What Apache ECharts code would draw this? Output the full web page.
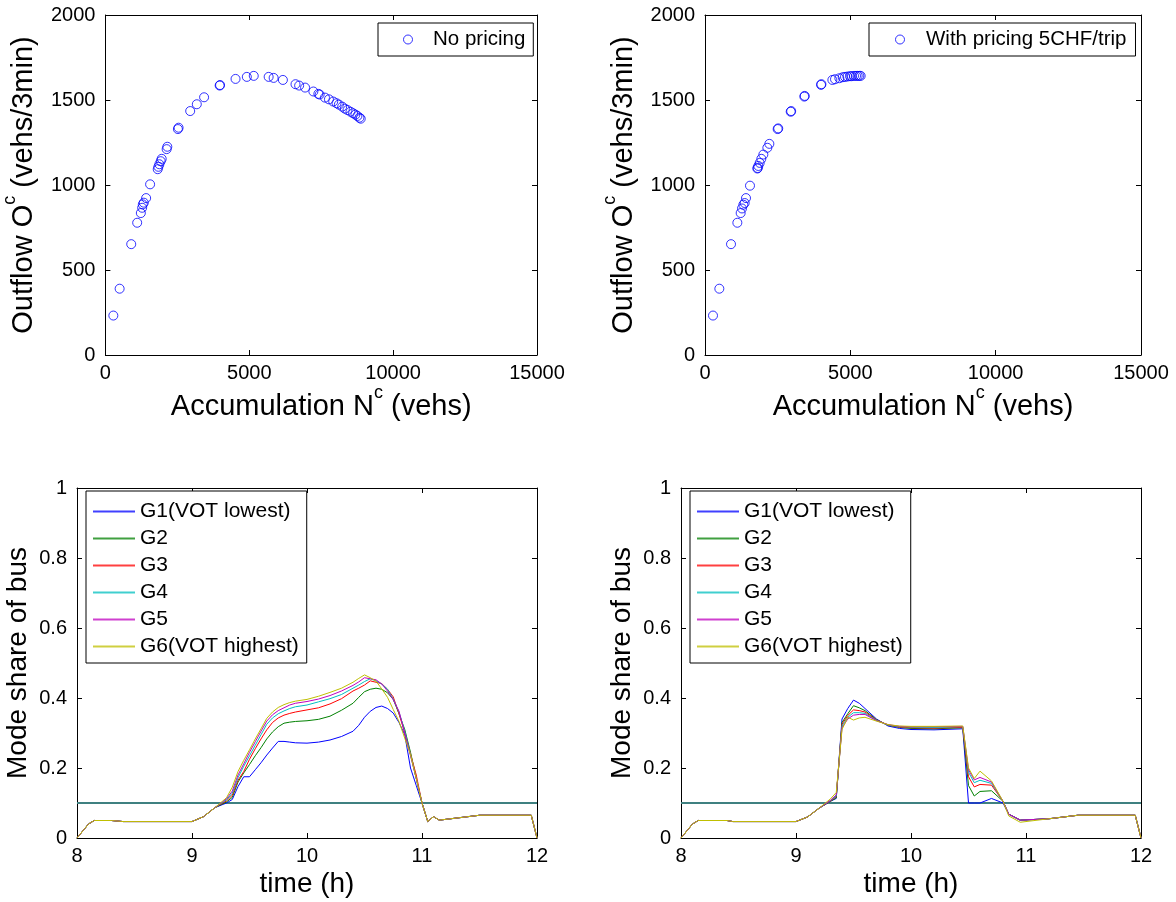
<!DOCTYPE html>
<html><head><meta charset="utf-8">
<script src="https://cdn.jsdelivr.net/npm/echarts@6/dist/echarts.min.js"></script>
<style>html,body{margin:0;padding:0;background:#fff}#c{width:1176px;height:902px}</style>
</head><body><div id="c"></div>
<script>
// ---------- Data: top-left scatter (no pricing) ----------
const accumNo = [276, 495, 898, 1105, 1232, 1278, 1300, 1335, 1416, 1554, 1819, 1842, 1876, 1922, 1957, 2129, 2152, 2520, 2544, 2947, 3177, 3430, 3971, 3985, 4523, 4915, 5156, 5674, 5847, 6169, 6607, 6733, 6940, 7228, 7401, 7447, 7631, 7769, 7918, 8033, 8114, 8230, 8322, 8414, 8518, 8609, 8690, 8759, 8828, 8874];
const outflowNo = [232, 390, 652, 778, 835, 866, 886, 896, 923, 1004, 1093, 1107, 1122, 1140, 1154, 1211, 1225, 1329, 1337, 1435, 1475, 1516, 1585, 1588, 1624, 1636, 1642, 1636, 1630, 1618, 1593, 1585, 1573, 1550, 1536, 1532, 1514, 1504, 1491, 1481, 1473, 1461, 1449, 1441, 1431, 1422, 1414, 1406, 1396, 1390];
// ---------- Data: top-right scatter (with pricing) ----------
const accumPr = [275, 493, 895, 1113, 1227, 1273, 1319, 1365, 1411, 1548, 1801, 1812, 1835, 1881, 1938, 2007, 2145, 2214, 2500, 2520, 2948, 2965, 3418, 3430, 3992, 4005, 4382, 4473, 4622, 4737, 4817, 4898, 4989, 5046, 5127, 5196, 5253, 5310, 5356];
const outflowPr = [232, 390, 652, 778, 835, 862, 884, 894, 923, 996, 1097, 1100, 1112, 1130, 1154, 1179, 1219, 1242, 1329, 1333, 1431, 1435, 1520, 1524, 1589, 1593, 1618, 1622, 1628, 1634, 1636, 1638, 1640, 1640, 1642, 1642, 1642, 1642, 1642];

// ---------- Data: bottom-left mode share (no pricing) ----------
const timeNo = [8.0, 8.1, 8.15, 8.3, 8.4, 9.0, 9.1, 9.2, 9.3, 9.35, 9.4, 9.45, 9.5, 9.55, 9.6, 9.65, 9.7, 9.75, 9.8, 9.85, 9.9, 10.0, 10.1, 10.2, 10.3, 10.4, 10.45, 10.5, 10.55, 10.6, 10.65, 10.7, 10.75, 10.8, 10.85, 10.9, 10.95, 11.0, 11.05, 11.1, 11.15, 11.5, 11.95, 12.0];
const noG1 = [0, 0.04, 0.05, 0.05, 0.047, 0.047, 0.061, 0.087, 0.1, 0.11, 0.147, 0.175, 0.175, 0.195, 0.215, 0.237, 0.257, 0.276, 0.276, 0.274, 0.272, 0.271, 0.274, 0.28, 0.29, 0.305, 0.322, 0.345, 0.362, 0.373, 0.377, 0.37, 0.357, 0.33, 0.295, 0.2, 0.15, 0.1, 0.047, 0.061, 0.051, 0.065, 0.065, 0];
const noG2 = [0, 0.04, 0.05, 0.05, 0.047, 0.047, 0.061, 0.087, 0.103, 0.116, 0.16, 0.186, 0.21, 0.235, 0.258, 0.283, 0.303, 0.318, 0.328, 0.331, 0.333, 0.335, 0.339, 0.348, 0.365, 0.385, 0.402, 0.418, 0.425, 0.428, 0.425, 0.415, 0.396, 0.355, 0.31, 0.245, 0.17, 0.1, 0.047, 0.061, 0.051, 0.065, 0.065, 0];
const noG3 = [0, 0.04, 0.05, 0.05, 0.047, 0.047, 0.061, 0.087, 0.106, 0.122, 0.165, 0.19, 0.225, 0.255, 0.283, 0.309, 0.33, 0.343, 0.351, 0.356, 0.36, 0.366, 0.372, 0.383, 0.398, 0.42, 0.428, 0.437, 0.449, 0.445, 0.441, 0.425, 0.403, 0.355, 0.3, 0.24, 0.18, 0.1, 0.047, 0.061, 0.051, 0.065, 0.065, 0];
const noG4 = [0, 0.04, 0.05, 0.05, 0.047, 0.047, 0.061, 0.087, 0.109, 0.128, 0.172, 0.205, 0.235, 0.265, 0.295, 0.325, 0.343, 0.355, 0.363, 0.37, 0.375, 0.38, 0.389, 0.398, 0.41, 0.428, 0.437, 0.447, 0.455, 0.449, 0.44, 0.425, 0.397, 0.36, 0.305, 0.238, 0.17, 0.1, 0.047, 0.061, 0.051, 0.065, 0.065, 0];
const noG5 = [0, 0.04, 0.05, 0.05, 0.047, 0.047, 0.061, 0.087, 0.112, 0.134, 0.18, 0.212, 0.245, 0.275, 0.305, 0.334, 0.352, 0.364, 0.372, 0.38, 0.385, 0.39, 0.397, 0.407, 0.42, 0.436, 0.446, 0.458, 0.455, 0.452, 0.44, 0.42, 0.395, 0.362, 0.3, 0.235, 0.17, 0.1, 0.047, 0.061, 0.051, 0.065, 0.065, 0];
const noG6 = [0, 0.04, 0.05, 0.05, 0.047, 0.047, 0.061, 0.087, 0.115, 0.145, 0.19, 0.222, 0.252, 0.283, 0.312, 0.342, 0.36, 0.373, 0.381, 0.387, 0.391, 0.396, 0.405, 0.416, 0.428, 0.445, 0.456, 0.466, 0.458, 0.448, 0.426, 0.402, 0.367, 0.333, 0.285, 0.238, 0.17, 0.1, 0.047, 0.061, 0.051, 0.065, 0.065, 0];

// ---------- Data: bottom-right mode share (with pricing) ----------
const timePr = [8.0, 8.1, 8.15, 8.4, 8.45, 9.0, 9.1, 9.2, 9.3, 9.35, 9.4, 9.45, 9.5, 9.55, 9.6, 9.7, 9.8, 9.9, 10.0, 10.2, 10.45, 10.5, 10.55, 10.6, 10.7, 10.8, 10.85, 10.95, 11.2, 11.45, 11.95, 12.0];
const prG1 = [0, 0.04, 0.05, 0.05, 0.047, 0.047, 0.06, 0.085, 0.105, 0.113, 0.34, 0.37, 0.394, 0.385, 0.37, 0.34, 0.32, 0.313, 0.31, 0.309, 0.312, 0.1, 0.1, 0.1, 0.113, 0.1, 0.068, 0.051, 0.055, 0.065, 0.065, 0];
const prG2 = [0, 0.04, 0.05, 0.05, 0.047, 0.047, 0.06, 0.085, 0.105, 0.115, 0.33, 0.355, 0.378, 0.372, 0.364, 0.338, 0.322, 0.316, 0.313, 0.312, 0.315, 0.15, 0.12, 0.133, 0.135, 0.105, 0.068, 0.051, 0.055, 0.065, 0.065, 0];
const prG3 = [0, 0.04, 0.05, 0.05, 0.047, 0.047, 0.06, 0.085, 0.106, 0.118, 0.325, 0.35, 0.366, 0.364, 0.36, 0.337, 0.323, 0.317, 0.315, 0.314, 0.316, 0.175, 0.146, 0.153, 0.151, 0.105, 0.068, 0.051, 0.055, 0.065, 0.065, 0];
const prG4 = [0, 0.04, 0.05, 0.05, 0.047, 0.047, 0.06, 0.085, 0.107, 0.12, 0.32, 0.345, 0.358, 0.358, 0.356, 0.336, 0.323, 0.318, 0.317, 0.316, 0.318, 0.188, 0.158, 0.165, 0.156, 0.105, 0.068, 0.051, 0.055, 0.065, 0.065, 0];
const prG5 = [0, 0.04, 0.05, 0.05, 0.047, 0.047, 0.06, 0.085, 0.108, 0.123, 0.315, 0.34, 0.351, 0.353, 0.353, 0.335, 0.324, 0.319, 0.318, 0.318, 0.319, 0.195, 0.166, 0.173, 0.16, 0.105, 0.068, 0.051, 0.055, 0.065, 0.065, 0];
const prG6 = [0, 0.04, 0.05, 0.05, 0.047, 0.047, 0.06, 0.085, 0.112, 0.13, 0.31, 0.345, 0.337, 0.343, 0.345, 0.334, 0.324, 0.32, 0.319, 0.319, 0.32, 0.2, 0.17, 0.191, 0.163, 0.105, 0.063, 0.045, 0.055, 0.065, 0.065, 0];

// horizontal reference level (drawn in both bottom panels)
const refTime = [8, 12];
const refShare = [0.1, 0.1];

const groupNames = ['G1(VOT lowest)', 'G2', 'G3', 'G4', 'G5', 'G6(VOT highest)'];
const groupColors = ['#0000ff', '#008000', '#ff0000', '#00bfbf', '#bf00bf', '#bfbf00'];
const scatterNames = ['No pricing', 'With pricing 5CHF/trip'];

// ---------- Build chart ----------
const FONT = '"Liberation Sans", Arial, Helvetica, sans-serif';
const chart = echarts.init(document.getElementById('c'), null, {renderer: 'canvas'});

const grids = [
  {left: 102, top: 15, width: 435, height: 340},
  {left: 705, top: 15, width: 436, height: 340},
  {left: 77, top: 488, width: 460, height: 350},
  {left: 681, top: 488, width: 460, height: 350}
];

const supRich = {sup: {fontSize: 18, lineHeight: 18, verticalAlign: 'top', fontFamily: FONT, color: '#000'}};
const plainNum = v => String(+(+v).toFixed(4));

function axisSet(gi, isX, min, max, interval, name, nameGap, nameStyle) {
  const base = {
    type: 'value', gridIndex: gi, min: min, max: max, interval: interval,
    axisLine: {show: true, onZero: false, lineStyle: {color: '#000', width: 1}},
    axisTick: {show: true, inside: true, length: 5, lineStyle: {color: '#000', width: 1}},
    splitLine: {show: false}
  };
  const main = Object.assign({}, base, {
    position: isX ? 'bottom' : 'left',
    axisLabel: {color: '#000', fontSize: 20, fontFamily: FONT, margin: isX ? 8 : 10, formatter: plainNum},
    name: name, nameLocation: 'middle', nameGap: nameGap,
    nameTextStyle: Object.assign({color: '#000', fontFamily: FONT}, nameStyle || {})
  });
  const mirror = Object.assign({}, base, {
    position: isX ? 'top' : 'right',
    axisLabel: {show: false}
  });
  return [main, mirror];
}

const xAxes = [], yAxes = [];
const nStyleTop = {fontSize: 29, lineHeight: 46, rich: supRich};
const nStyleBot = {fontSize: 28, lineHeight: 34};
[0, 1].forEach(gi => {
  xAxes.push(...axisSet(gi, true, 0, 15000, 5000, 'Accumulation N{sup|c} (vehs)', 26, nStyleTop));
  yAxes.push(...axisSet(gi, false, 0, 2000, 500, 'Outflow O{sup|c} (vehs/3min)', 47, nStyleTop));
});
[2, 3].forEach(gi => {
  xAxes.push(...axisSet(gi, true, 8, 12, 1, 'time (h)', 21, nStyleBot));
  yAxes.push(...axisSet(gi, false, 0, 1, 0.2, 'Mode share of bus', 38, nStyleBot));
});

const series = [];
series.push({
  type: 'scatter', name: scatterNames[0], xAxisIndex: 0, yAxisIndex: 0,
  data: accumNo.map((a, i) => [a, outflowNo[i]]),
  symbol: 'circle', symbolSize: 9,
  itemStyle: {color: 'transparent', borderColor: '#0000ff', borderWidth: 1}
});
series.push({
  type: 'scatter', name: scatterNames[1], xAxisIndex: 2, yAxisIndex: 2,
  data: accumPr.map((a, i) => [a, outflowPr[i]]),
  symbol: 'circle', symbolSize: 9,
  itemStyle: {color: 'transparent', borderColor: '#0000ff', borderWidth: 1}
});

const noGroups = [noG1, noG2, noG3, noG4, noG5, noG6];
const prGroups = [prG1, prG2, prG3, prG4, prG5, prG6];
[[4, timeNo, noGroups], [6, timePr, prGroups]].forEach(([ai, times, groups]) => {
  series.push({
    type: 'line', name: 'ref' + ai, xAxisIndex: ai, yAxisIndex: ai,
    data: refTime.map((t, i) => [t, refShare[i]]),
    showSymbol: false, symbol: 'none',
    lineStyle: {color: '#3f8080', width: 2}, itemStyle: {color: '#3f8080'}
  });
  groups.forEach((g, k) => {
    series.push({
      type: 'line', name: groupNames[k], xAxisIndex: ai, yAxisIndex: ai,
      data: times.map((t, i) => [t, g[i]]),
      showSymbol: false, symbol: 'none',
      lineStyle: {color: groupColors[k], width: 1}, itemStyle: {color: groupColors[k]}
    });
  });
});

const legBase = {
  orient: 'vertical', selectedMode: false, backgroundColor: '#fff',
  borderColor: '#000', borderWidth: 1, borderRadius: 0, itemGap: 0
};
const lineLegendData = groupNames.map((n, k) => ({
  name: n, icon: 'rect',
  itemStyle: {color: groupColors[k], borderWidth: 0, opacity: 0.75}
}));
const legends = [
  Object.assign({}, legBase, {
    data: [scatterNames[0]], left: 378, top: 23, padding: [5, 8, 5, 25],
    itemWidth: 40, itemHeight: 9, itemStyle: {borderWidth: 1},
    textStyle: {fontSize: 20.5, lineHeight: 23, color: '#000', fontFamily: FONT}
  }),
  Object.assign({}, legBase, {
    data: [scatterNames[1]], left: 869, top: 23, padding: [5, 9, 5, 26],
    itemWidth: 42, itemHeight: 9, itemStyle: {borderWidth: 1},
    textStyle: {fontSize: 20.5, lineHeight: 23, color: '#000', fontFamily: FONT}
  }),
  Object.assign({}, legBase, {
    data: lineLegendData, left: 86, top: 491, padding: [7, 8, 3, 7],
    itemWidth: 42, itemHeight: 2,
    textStyle: {fontSize: 21, lineHeight: 27, color: '#000', fontFamily: FONT}
  }),
  Object.assign({}, legBase, {
    data: lineLegendData, left: 690, top: 491, padding: [7, 8, 3, 7],
    itemWidth: 42, itemHeight: 2,
    textStyle: {fontSize: 21, lineHeight: 27, color: '#000', fontFamily: FONT}
  })
];

chart.setOption({
  animation: false,
  backgroundColor: '#fff',
  textStyle: {fontFamily: FONT},
  grid: grids,
  xAxis: xAxes,
  yAxis: yAxes,
  legend: legends,
  series: series
});
</script>
</body></html>
